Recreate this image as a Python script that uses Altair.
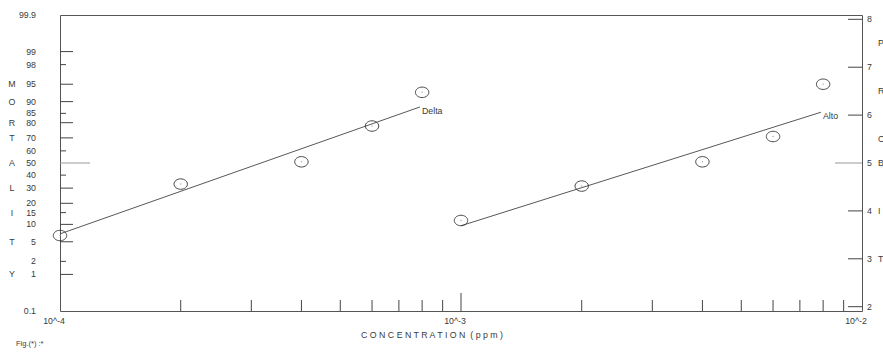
import altair as alt
import pandas as pd
from statistics import NormalDist

_nd = NormalDist()


def probit(pct):
    return 5 + _nd.inv_cdf(pct / 100.0)


# ---------------- data ----------------
delta_conc = [1e-4, 2e-4, 4e-4, 6e-4, 8e-4]
delta_mort = [6.5, 33, 51, 78, 93]
alto_conc = [1e-3, 2e-3, 4e-3, 6e-3, 8e-3]
alto_mort = [11.5, 31.5, 51, 71, 95]

# fitted probit lines (end points)
delta_fit_conc = [1e-4, 7.9e-4]
delta_fit_probit = [3.52, 6.17]
alto_fit_conc = [1e-3, 7.9e-3]
alto_fit_probit = [3.69, 6.06]

# left (mortality %) axis
mort_labels = ["99.9", "99", "98", "95", "90", "85", "80", "70", "60", "50",
               "40", "30", "20", "15", "10", "5", "2", "1", "0.1"]
mort_values = [99.9, 99, 98, 95, 90, 85, 80, 70, 60, 50,
               40, 30, 20, 15, 10, 5, 2, 1, 0.1]
mort_long_ticks = [99, 95, 90, 80, 70, 30, 20, 10, 5, 1]
mort_short_ticks = [98, 85, 60, 40, 15, 2]
mort_mid_tick = [50]
left_letters = ["M", "O", "R", "T", "A", "L", "I", "T", "Y"]
left_letter_pct = [95, 90, 80, 70, 50, 30, 15, 5, 1]

# right (probit) axis
probit_labels = ["2", "3", "4", "5", "6", "7", "8"]
probit_values = [2, 3, 4, 5, 6, 7, 8]
right_letters = ["P", "R", "O", "B", "I", "T"]
right_letter_probit = [7.5, 6.5, 5.5, 5.0, 4.0, 3.0]

# x (concentration) axis
x_labels = ["10^-4", "10^-3", "10^-2"]
x_label_values = [1e-4, 1e-3, 1e-2]
x_minor_ticks = [2e-4, 3e-4, 4e-4, 5e-4, 6e-4, 7e-4, 8e-4, 9e-4,
                 2e-3, 3e-3, 4e-3, 5e-3, 6e-3, 7e-3, 8e-3, 9e-3]
x_major_ticks = [1e-3]

x_title = "C O N C E N T R A T I O N \u00a0( p p m )"
fig_label = "Fig.(*) :*"

# ---------------- styling ----------------
W, H = 802, 296
FONT = "Liberation Sans"
TXT = "#3a3a3a"
LINE = "#444444"
FS = 8.8

xs = alt.Scale(type="log", domain=[1e-4, 1e-2], nice=False)
ys = alt.Scale(type="linear", domain=[probit(0.1), probit(99.9)], nice=False, zero=False)


def X(field="conc"):
    return alt.X(f"{field}:Q", scale=xs, axis=None)


def Y(field="probit"):
    return alt.Y(f"{field}:Q", scale=ys, axis=None)


pts = pd.DataFrame({
    "conc": delta_conc + alto_conc,
    "probit": [probit(v) for v in delta_mort + alto_mort],
    "series": ["Delta"] * 5 + ["Alto"] * 5,
})
fits = pd.DataFrame({
    "conc": delta_fit_conc + alto_fit_conc,
    "probit": delta_fit_probit + alto_fit_probit,
    "series": ["Delta"] * 2 + ["Alto"] * 2,
})
fit_ends = pd.DataFrame({
    "conc": [delta_fit_conc[-1], alto_fit_conc[-1]],
    "probit": [delta_fit_probit[-1], alto_fit_probit[-1]],
    "series": ["Delta", "Alto"],
})

ellipse = "M-1,0A1,0.78,0,1,1,1,0A1,0.78,0,1,1,-1,0Z"

points = alt.Chart(pts).mark_point(
    shape=ellipse, filled=False, size=180, color="#333", strokeWidth=0.9, opacity=1
).encode(x=X(), y=Y())
dots = alt.Chart(pts).mark_point(
    shape="circle", filled=True, size=2, color="#aaa", opacity=1
).encode(x=X(), y=Y())

lines = alt.Chart(fits).mark_line(color=LINE, strokeWidth=0.9).encode(
    x=X(), y=Y(), detail="series:N"
)
line_labels = alt.Chart(fit_ends).mark_text(
    align="left", baseline="middle", dx=2, dy=4, font=FONT, fontSize=FS, color=TXT
).encode(x=X(), y=Y(), text="series:N")


# left axis ticks (inward)
def left_ticks(vals, length, color):
    df = pd.DataFrame({"probit": [probit(v) for v in vals]})
    return alt.Chart(df).mark_rule(color=color, strokeWidth=1).encode(
        y=Y(), x=alt.value(0), x2=alt.value(length)
    )


lt_long = left_ticks(mort_long_ticks, 13, LINE)
lt_short = left_ticks(mort_short_ticks, 6, LINE)
lt_mid = left_ticks(mort_mid_tick, 30, "#999999")

left_lab_df = pd.DataFrame({"probit": [probit(v) for v in mort_values], "label": mort_labels})
left_labels = alt.Chart(left_lab_df).mark_text(
    align="right", baseline="middle", font=FONT, fontSize=FS, color=TXT
).encode(y=Y(), x=alt.value(-24), text="label:N")

left_let_df = pd.DataFrame({"probit": [probit(v) for v in left_letter_pct], "label": left_letters})
left_let = alt.Chart(left_let_df).mark_text(
    align="center", baseline="middle", font=FONT, fontSize=FS, color=TXT
).encode(y=Y(), x=alt.value(-48), text="label:N")

# right axis
rt_df = pd.DataFrame({"probit": [v for v in probit_values if v != 5]})
rt = alt.Chart(rt_df).mark_rule(color=LINE, strokeWidth=1).encode(
    y=Y(), x=alt.value(W - 14), x2=alt.value(W)
)
rt5 = alt.Chart(pd.DataFrame({"probit": [5]})).mark_rule(color="#999999", strokeWidth=1).encode(
    y=Y(), x=alt.value(W - 27), x2=alt.value(W)
)
right_lab_df = pd.DataFrame({"probit": probit_values, "label": probit_labels})
right_labels = alt.Chart(right_lab_df).mark_text(
    align="left", baseline="middle", font=FONT, fontSize=FS, color=TXT
).encode(y=Y(), x=alt.value(W + 5), text="label:N")
right_let_df = pd.DataFrame({"probit": right_letter_probit, "label": right_letters})
right_let = alt.Chart(right_let_df).mark_text(
    align="left", baseline="middle", font=FONT, fontSize=FS, color=TXT, dx=W + 16
).encode(y=Y(), x=alt.value(0), text="label:N")

# bottom axis
bt_minor = alt.Chart(pd.DataFrame({"conc": x_minor_ticks})).mark_rule(
    color=LINE, strokeWidth=1
).encode(x=X(), y=alt.value(H), y2=alt.value(H - 11))
bt_major = alt.Chart(pd.DataFrame({"conc": x_major_ticks})).mark_rule(
    color=LINE, strokeWidth=1
).encode(x=X(), y=alt.value(H), y2=alt.value(H - 18))
bottom_labels = alt.Chart(pd.DataFrame({"conc": x_label_values, "label": x_labels})).mark_text(
    align="center", baseline="middle", font=FONT, fontSize=FS, color=TXT, dx=-6
).encode(x=X(), y=alt.value(H + 10), text="label:N")

title = alt.Chart(pd.DataFrame({"t": [x_title]})).mark_text(
    align="center", baseline="middle", font=FONT, fontSize=FS, color=TXT
).encode(x=alt.value(372), y=alt.value(H + 24), text="t:N")
fig = alt.Chart(pd.DataFrame({"t": [fig_label]})).mark_text(
    align="left", baseline="middle", font=FONT, fontSize=7.5, color=TXT
).encode(x=alt.value(-44), y=alt.value(H + 33), text="t:N")

chart = alt.layer(
    lt_long, lt_short, lt_mid, rt, rt5, bt_minor, bt_major,
    lines, points, dots, line_labels,
    left_labels, left_let, right_labels, right_let, bottom_labels, title, fig,
).properties(
    width=W, height=H,
    padding={"left": 60, "top": 15, "right": 21, "bottom": 47},
    autosize=alt.AutoSizeParams(type="none"),
    background="white",
).configure_view(stroke="#555555", strokeWidth=1)

chart.save("out.html", embed_options={"renderer": "svg", "actions": False})
